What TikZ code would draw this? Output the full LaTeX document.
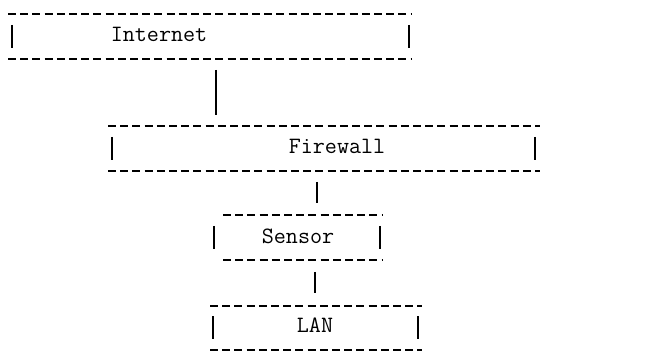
\documentclass[tikz,border=0pt]{standalone}
\usetikzlibrary{calc}
\tikzset{
  frame/.style={inner sep=0pt,outer sep=0pt},
  rule/.style={line width=1pt,dash pattern=on 4pt off 2.1pt},
  bar/.style={line width=1.1pt},
  wire/.style={line width=1.1pt},
  lbl/.style={anchor=base,inner sep=0pt,font=\ttfamily\fontsize{11.7}{14}\selectfont}
}
\begin{document}
\begin{tikzpicture}[x=0.5pt,y=-0.5pt]
  \useasboundingbox (0,0) rectangle (649,353);
  % boxes, given by their dashed top and bottom rules
  \node[frame,minimum width=202pt,minimum height=22.5pt] (inet) at (210,36.5) {};
  \node[frame,minimum width=216pt,minimum height=22.5pt] (fw) at (324,148.5) {};
  \node[frame,minimum width=80pt,minimum height=22.5pt] (sens) at (303,237.5) {};
  \node[frame,minimum width=106pt,minimum height=22pt] (lan) at (316,328) {};
  \node[lbl] (inettxt) at (159,42) {Internet};
  \node[lbl] (fwtxt) at (337,154) {Firewall};
  \node[lbl] (senstxt) at (298,244) {Sensor};
  \node[lbl] (lantxt) at (315,333) {LAN};
  \foreach \n/\l/\r in {inet/4/-3,fw/4/-5,sens/-9/-3,lan/3/-4}{
    \draw[rule] (\n.north west) -- (\n.north east) (\n.south west) -- (\n.south east);
    \draw[bar] ([shift={(\l,-11.5)}]\n.west) -- ++(0,23);
    \draw[bar] ([shift={(\r,-11.5)}]\n.east) -- ++(0,23);
  }
  % links
  \draw[wire] ($(inet.south)+(6,11)$) -- ($(inet.south |- fw.north)+(6,-11)$);
  \draw[wire] ($(fw.south)+(-7,11)$) -- ($(fw.south |- sens.north)+(-7,-12)$);
  \draw[wire] ($(sens.south)+(12,12)$) -- ($(sens.south |- lan.north)+(12,-13)$);
\end{tikzpicture}
\end{document}
